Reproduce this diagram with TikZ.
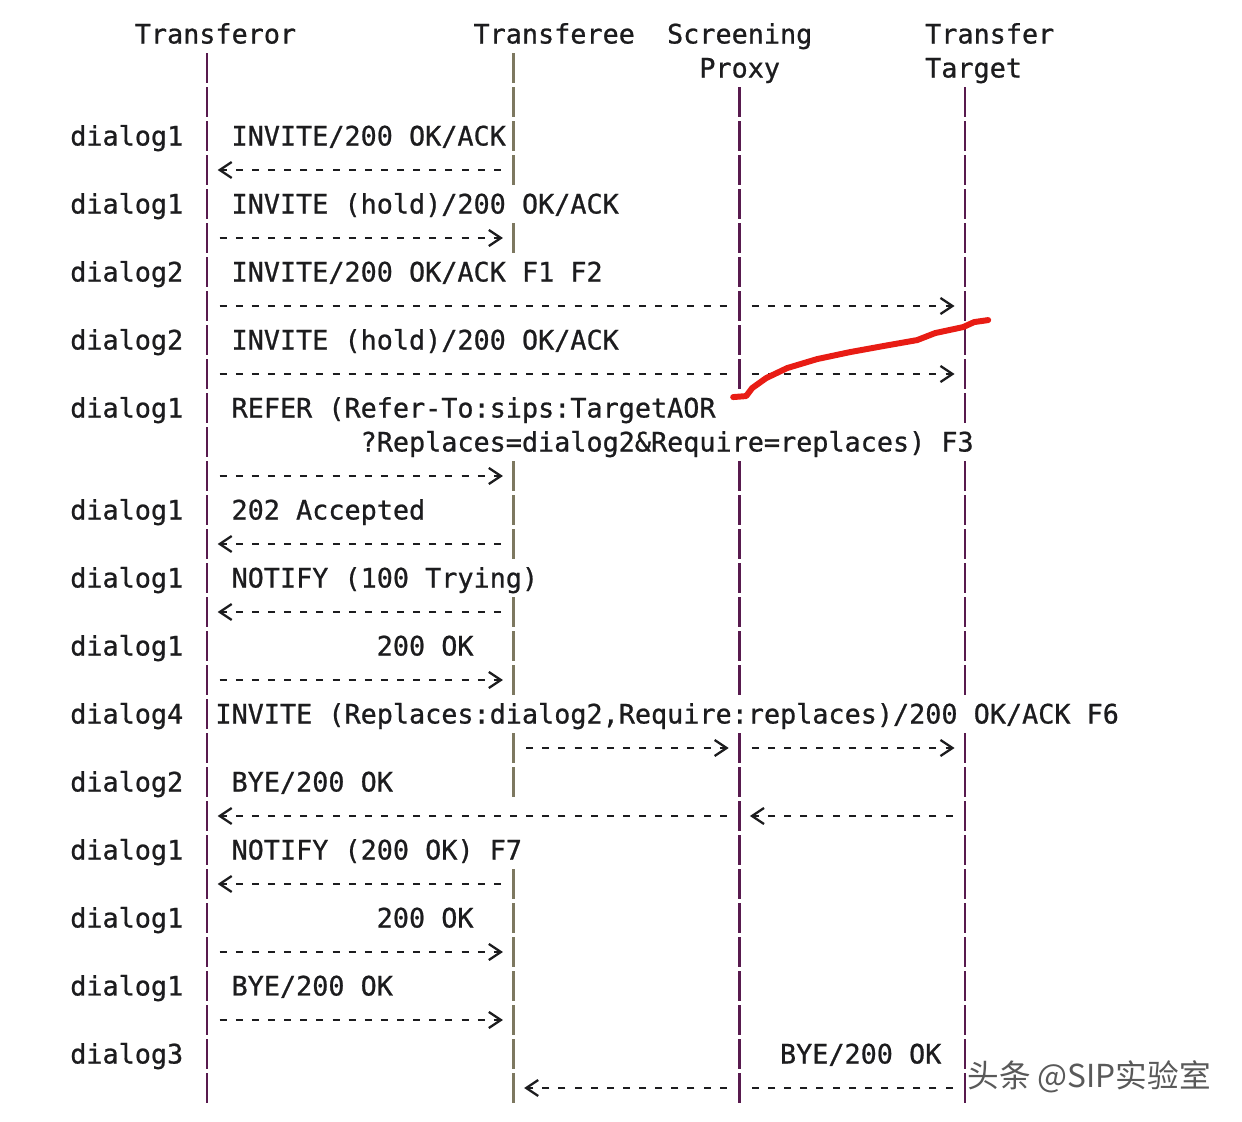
\documentclass[tikz,border=0pt]{standalone}
\usepackage{fontspec}
\setmonofont{DejaVu Sans Mono}[FakeBold=0.8]
\newfontfamily\cjkfont{Noto Sans CJK SC}
\usetikzlibrary{arrows.meta}

\definecolor{inkcol}{RGB}{28,28,30}
\definecolor{lifecol}{RGB}{88,26,78}
\definecolor{teecol}{RGB}{125,120,96}
\definecolor{penred}{RGB}{232,28,20}

\begin{document}
\begin{tikzpicture}[x=0.3226cm, y=-0.68cm,
		txt/.style={font=\ttfamily\fontsize{15.25}{18}\selectfont, text=inkcol, anchor=base west, inner sep=0pt, xshift=-0.1613cm, yshift=-0.19cm},
		life/.style={lifecol, line width=1.4pt},
		msg/.style={inkcol, line width=1.3pt, dash pattern=on 0.14cm off 0.1826cm, shorten <=0.2526cm, shorten >=0.2126cm, -{Straight Barb[length=0.24cm,width=0.32cm,line width=1.3pt]}},
		leg/.style={msg, -, shorten >=0.2526cm}]
		\useasboundingbox (-4.8357,-1) rectangle (72.164,32);

		\coordinate (tor) at (8,0);
		\coordinate (tee) at (27,0);
		\coordinate (proxy) at (41,0);
		\coordinate (target) at (55,0);
		\foreach \r in {0,...,31} \coordinate (r\r) at (0,\r);

		\node[txt] (hTor) at (4,0) {Transferor};
		\node[txt] (hTee) at (25,0) {Transferee};
		\node[txt] (hScr) at (37,0) {Screening};
		\node[txt] (hProxy) at (39,1) {Proxy};
		\node[txt] (hTrf) at (53,0) {Transfer};
		\node[txt] (hTarget) at (53,1) {Target};

		% lifelines, one bar per row
		\foreach \r in {1,...,31} \draw[life] (tor |- r\r) ++(0,-0.43) -- ++(0,0.86);
		\foreach \r in {1,2,3,4,6,13,14,15,17,18,19,21,22,25,26,27,28,29,30,31} \draw[life, teecol] (tee |- r\r) ++(0,-0.43) -- ++(0,0.86);
		\foreach \r in {2,3,4,5,6,7,8,9,10,13,14,15,16,17,18,19,21,22,23,24,25,26,27,28,29,30,31} \draw[life] (proxy |- r\r) ++(0,-0.43) -- ++(0,0.86);
		\foreach \r in {2,3,4,5,6,7,8,9,10,11,13,14,15,16,17,18,19,21,22,23,24,25,26,27,28,29,30,31} \draw[life] (target |- r\r) ++(0,-0.43) -- ++(0,0.86);

		\node[txt] (d3) at (0,3) {dialog1};
		\node[txt] (d5) at (0,5) {dialog1};
		\node[txt] (d7) at (0,7) {dialog2};
		\node[txt] (d9) at (0,9) {dialog2};
		\node[txt] (d11) at (0,11) {dialog1};
		\node[txt] (d14) at (0,14) {dialog1};
		\node[txt] (d16) at (0,16) {dialog1};
		\node[txt] (d18) at (0,18) {dialog1};
		\node[txt] (d20) at (0,20) {dialog4};
		\node[txt] (d22) at (0,22) {dialog2};
		\node[txt] (d24) at (0,24) {dialog1};
		\node[txt] (d26) at (0,26) {dialog1};
		\node[txt] (d28) at (0,28) {dialog1};
		\node[txt] (d30) at (0,30) {dialog3};

		\node[txt] (m3) at (10,3) {INVITE/200 OK/ACK};
		\node[txt] (m5) at (10,5) {INVITE (hold)/200 OK/ACK};
		\node[txt] (m7) at (10,7) {INVITE/200 OK/ACK F1 F2};
		\node[txt] (m9) at (10,9) {INVITE (hold)/200 OK/ACK};
		\node[txt] (m11) at (10,11) {REFER (Refer-To:sips:TargetAOR};
		\node[txt] (m12) at (18,12) {?Replaces=dialog2\&Require=replaces) F3};
		\node[txt] (m14) at (10,14) {202 Accepted};
		\node[txt] (m16) at (10,16) {NOTIFY (100 Trying)};
		\node[txt] (m18) at (19,18) {200 OK};
		\node[txt] (m20) at (9,20) {INVITE (Replaces:dialog2,Require:replaces)/200 OK/ACK F6};
		\node[txt] (m22) at (10,22) {BYE/200 OK};
		\node[txt] (m24) at (10,24) {NOTIFY (200 OK) F7};
		\node[txt] (m26) at (19,26) {200 OK};
		\node[txt] (m28) at (10,28) {BYE/200 OK};
		\node[txt] (m30) at (44,30) {BYE/200 OK};

		\draw[msg] (tee |- r4) -- (tor |- r4);
		\draw[msg] (tor |- r6) -- (tee |- r6);
		\draw[leg] (tor |- r8) -- (proxy |- r8);
		\draw[msg] (proxy |- r8) -- (target |- r8);
		\draw[leg] (tor |- r10) -- (proxy |- r10);
		\draw[msg] (proxy |- r10) -- (target |- r10);
		\draw[msg] (tor |- r13) -- (tee |- r13);
		\draw[msg] (tee |- r15) -- (tor |- r15);
		\draw[msg] (tee |- r17) -- (tor |- r17);
		\draw[msg] (tor |- r19) -- (tee |- r19);
		\draw[msg] (tee |- r21) -- (proxy |- r21);
		\draw[msg] (proxy |- r21) -- (target |- r21);
		\draw[msg] (target |- r23) -- (proxy |- r23);
		\draw[msg] (proxy |- r23) -- (tor |- r23);
		\draw[msg] (tee |- r25) -- (tor |- r25);
		\draw[msg] (tor |- r27) -- (tee |- r27);
		\draw[msg] (tor |- r29) -- (tee |- r29);
		\draw[leg] (target |- r31) -- (proxy |- r31);
		\draw[msg] (proxy |- r31) -- (tee |- r31);

		% pen mark and watermark, in pixel units
		\begin{scope}[x=0.02cm, y=-0.02cm, xshift=-1.56cm, yshift=0.68cm]
			\draw[penred, line width=3.4pt, line cap=round, line join=round] (733,397) -- (746,396) -- (752,388) -- (766,378) -- (787,368) -- (817,359) -- (850,352) -- (883,346) -- (917,340) -- (935,333) -- (963,327) -- (974,322) -- (988,320);
			\node[font=\cjkfont\fontsize{18}{20}\selectfont, text=black!65, inner sep=0pt] (wm) at (1089,1077) {头条 @SIP实验室};
		\end{scope}
	\end{tikzpicture}
\end{document}
